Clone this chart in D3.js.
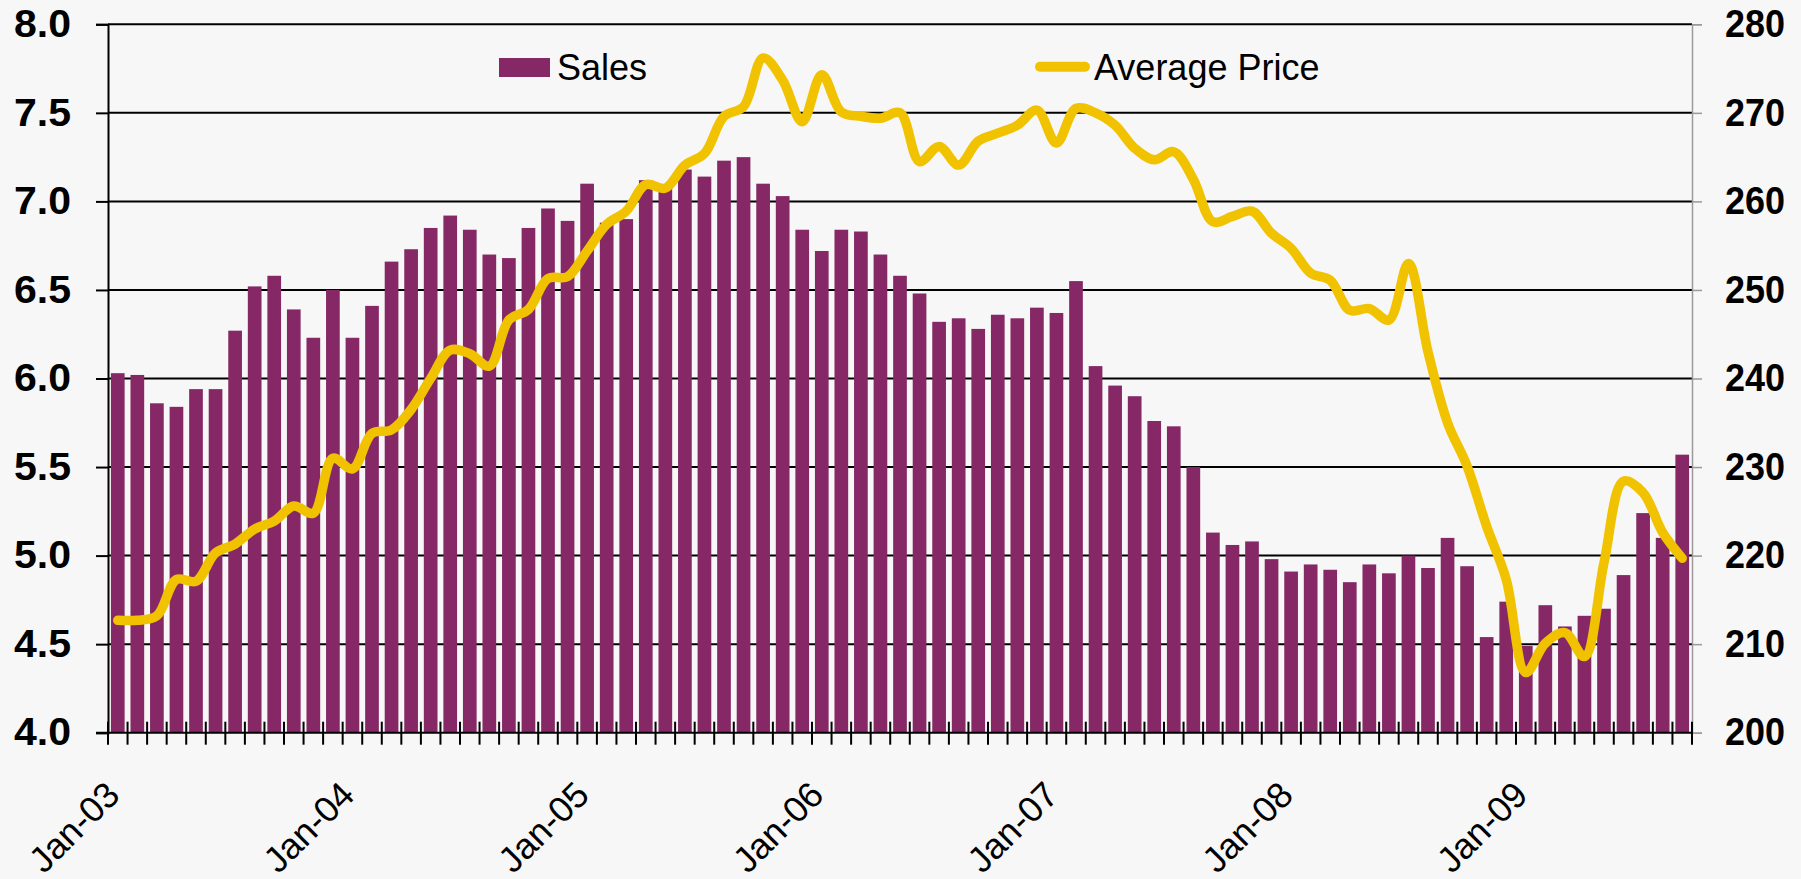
<!DOCTYPE html>
<meta charset="utf-8">
<style>
  body {margin: 0; background: #f7f7f7; font-family: 'Liberation Sans', Arial, sans-serif;}
  svg {display: block;}
</style>

<svg width="1801" height="879"></svg>

<script src="https://cdn.jsdelivr.net/npm/d3@7/dist/d3.min.js"></script>
<script>

// monthly categories, Jan-03 .. Sep-09
var months = d3.timeMonth.range(new Date(2003, 0, 1), new Date(2009, 9, 1));

// sales (left axis)
var sales = [
  6.03, 6.02, 5.86, 5.84, 5.94, 5.94, 6.27, 6.52, 6.58, 6.39, 6.23, 6.50,
  6.23, 6.41, 6.66, 6.73, 6.85, 6.92, 6.84, 6.70, 6.68, 6.85, 6.96, 6.89,
  7.10, 6.88, 6.90, 7.12, 7.09, 7.18, 7.14, 7.23, 7.25, 7.10, 7.03, 6.84,
  6.72, 6.84, 6.83, 6.70, 6.58, 6.48, 6.32, 6.34, 6.28, 6.36, 6.34, 6.40,
  6.37, 6.55, 6.07, 5.96, 5.90, 5.76, 5.73, 5.50, 5.13, 5.06, 5.08, 4.98,
  4.91, 4.95, 4.92, 4.85, 4.95, 4.90, 5.00, 4.93, 5.10, 4.94, 4.54, 4.74,
  4.49, 4.72, 4.60, 4.66, 4.70, 4.89, 5.24, 5.10, 5.57
];

// average price (right axis)
var price = [
  212.7, 212.7, 213.2, 217.3, 217.1, 220.3, 221.3, 223.0, 223.9, 225.6, 224.8, 231.0,
  229.8, 233.8, 234.2, 236.5, 240.0, 243.2, 242.8, 241.4, 246.6, 247.8, 251.3, 251.5,
  254.4, 257.4, 258.9, 261.9, 261.5, 264.1, 265.4, 269.6, 270.7, 276.2, 273.7, 269.0,
  274.3, 270.1, 269.6, 269.4, 270.0, 264.5, 266.2, 264.1, 266.8, 267.7, 268.6, 270.3,
  266.6, 270.5, 270.0, 268.6, 266.0, 264.7, 265.6, 262.5, 257.7, 258.3, 258.9, 256.4,
  254.7, 251.9, 251.1, 247.7, 247.9, 246.6, 253.0, 243.0, 235.0, 230.1, 223.3, 217.3,
  206.8, 210.1, 211.3, 208.6, 219.2, 228.4, 227.1, 222.6, 219.7
];

var salesTicks = [4.0, 4.5, 5.0, 5.5, 6.0, 6.5, 7.0, 7.5, 8.0];
var priceTicks = [200, 210, 220, 230, 240, 250, 260, 270, 280];
var xLabels = ["Jan-03", "Jan-04", "Jan-05", "Jan-06", "Jan-07", "Jan-08", "Jan-09"];

var fmt = d3.timeFormat("%b-%y");
var cats = months.map(fmt);

var svg = d3.select("svg"),
    plotLeft = 108, plotRight = 1692, plotTop = 24.3, plotBottom = 732.7;

var purple = "#862866",
    gold = "#f1c200";

var x = d3.scaleBand()
    .domain(cats)
    .range([plotLeft, plotRight])
    .paddingInner(0.3)
    .paddingOuter(0.15);

var xEdge = d3.scaleLinear()
    .domain([0, cats.length])
    .range([plotLeft, plotRight]);

var y = d3.scaleLinear()
    .domain([4, 8])
    .range([plotBottom, plotTop]);

var y2 = d3.scaleLinear()
    .domain([200, 280])
    .range([plotBottom, plotTop]);

// GRIDLINES
svg.append("g")
  .selectAll("line")
  .data(salesTicks.filter(function(d) { return d > 4; }))
  .enter().append("line")
    .attr("x1", plotLeft)
    .attr("x2", plotRight)
    .attr("y1", function(d) { return y(d); })
    .attr("y2", function(d) { return y(d); })
    .style("stroke", "#000")
    .style("stroke-width", 2);

// BARS
svg.append("g")
  .selectAll("rect")
  .data(sales)
  .enter().append("rect")
    .attr("x", function(d, i) { return x(cats[i]); })
    .attr("width", x.bandwidth())
    .attr("y", function(d) { return y(d); })
    .attr("height", function(d) { return plotBottom - y(d); })
    .style("fill", purple);

// LEFT AXIS
var yAxis = svg.append("g")
    .attr("transform", "translate(" + plotLeft + ",0)")
    .call(d3.axisLeft(y)
      .tickValues(salesTicks)
      .tickFormat(d3.format(".1f"))
      .tickSize(12)
      .tickPadding(25));

yAxis.select(".domain").style("stroke", "#000").style("stroke-width", 2);
yAxis.selectAll(".tick line").style("stroke", "#000").style("stroke-width", 2);
yAxis.selectAll("text")
    .style("font-family", "'Liberation Sans', Arial, sans-serif")
    .style("font-size", "38px")
    .style("font-weight", "bold")
    .style("fill", "#000")
    .attr("textLength", 57)
    .attr("lengthAdjust", "spacingAndGlyphs");

// RIGHT AXIS
var y2Axis = svg.append("g")
    .attr("transform", "translate(" + plotRight + ",0)")
    .call(d3.axisRight(y2)
      .tickValues(priceTicks)
      .tickSize(10)
      .tickPadding(23));

y2Axis.select(".domain").style("stroke", "#9a9a9a").style("stroke-width", 1.5);
y2Axis.selectAll(".tick line").style("stroke", "#9a9a9a").style("stroke-width", 1.5);
y2Axis.selectAll("text")
    .style("font-family", "'Liberation Sans', Arial, sans-serif")
    .style("font-size", "38px")
    .style("font-weight", "bold")
    .style("fill", "#000")
    .attr("textLength", 60)
    .attr("lengthAdjust", "spacingAndGlyphs");

// X AXIS
svg.append("line")
    .attr("x1", plotLeft - 12)
    .attr("x2", plotRight)
    .attr("y1", plotBottom)
    .attr("y2", plotBottom)
    .style("stroke", "#000")
    .style("stroke-width", 2);

svg.append("g")
  .selectAll("line")
  .data(d3.range(cats.length + 1))
  .enter().append("line")
    .attr("x1", function(d) { return xEdge(d); })
    .attr("x2", function(d) { return xEdge(d); })
    .attr("y1", plotBottom - 11)
    .attr("y2", plotBottom + 12)
    .style("stroke", "#000")
    .style("stroke-width", 2);

svg.append("g")
  .selectAll("text")
  .data(xLabels)
  .enter().append("text")
    .attr("transform", function(d) {
      return "translate(" + (x(d) + x.bandwidth() / 2 + 4) + ",797) rotate(-45)";
    })
    .attr("text-anchor", "end")
    .style("font-size", "36px")
    .style("fill", "#000")
    .text(function(d) { return d; });

// PRICE LINE
var line = d3.line()
    .x(function(d, i) { return x(cats[i]) + x.bandwidth() / 2; })
    .y(function(d) { return y2(d); })
    .curve(d3.curveCatmullRom.alpha(0.5));

svg.append("path")
    .datum(price)
    .attr("d", line)
    .style("fill", "none")
    .style("stroke", gold)
    .style("stroke-width", 9.5)
    .style("stroke-linejoin", "round")
    .style("stroke-linecap", "round");

// LEGEND
svg.append("rect")
    .attr("x", 499)
    .attr("y", 58)
    .attr("width", 51)
    .attr("height", 19)
    .style("fill", purple);

svg.append("text")
    .attr("x", 557)
    .attr("y", 79.5)
    .style("font-size", "36px")
    .text("Sales");

svg.append("line")
    .attr("x1", 1040)
    .attr("x2", 1085)
    .attr("y1", 66.7)
    .attr("y2", 66.7)
    .style("stroke", gold)
    .style("stroke-width", 10)
    .style("stroke-linecap", "round");

svg.append("text")
    .attr("x", 1094)
    .attr("y", 79.5)
    .style("font-size", "36px")
    .text("Average Price");

</script>
